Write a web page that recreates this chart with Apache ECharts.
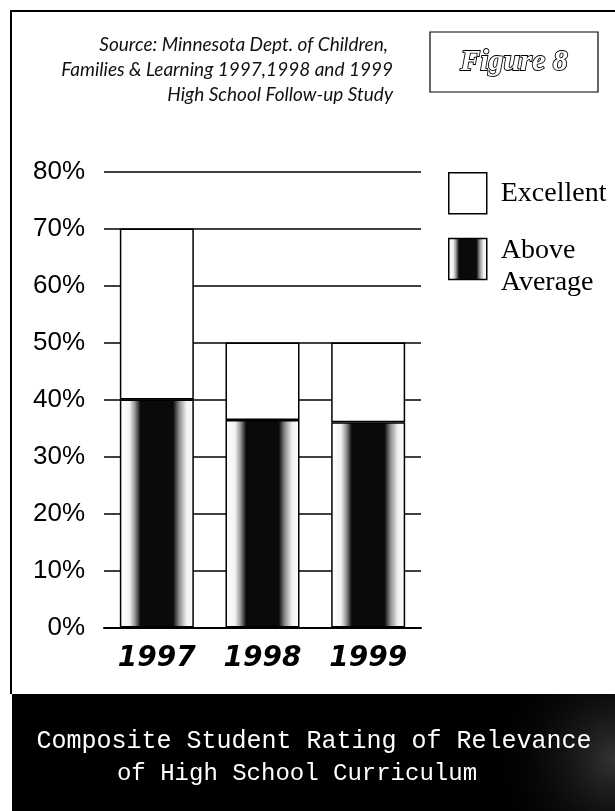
<!DOCTYPE html>
<html>
<head>
<meta charset="utf-8">
<script src="https://cdn.jsdelivr.net/npm/echarts@6/dist/echarts.min.js"></script>
<style>
  html, body { margin: 0; padding: 0; background: #fff; }
  #chart { width: 615px; height: 811px; }
</style>
</head>
<body>
<div id="chart"></div>
<script>
// Survey years and ratings (percent of students)
const years = ['1997', '1998', '1999'];
const aboveAverage = [40, 36.4, 36];
const excellent = [30, 13.6, 14];
const yMax = 80;
const yStep = 10;

const sourceLines = [
  'Source: Minnesota Dept. of Children,',
  'Families & Learning 1997,1998 and 1999',
  'High School Follow-up Study'
];
const titleLines = [
  'Composite Student Rating of Relevance',
  'of High School Curriculum'
];

// Dark fill: white edges fading to a black core, like a shaded column
const darkFill = {
  type: 'linear', x: 0, y: 0, x2: 1, y2: 0,
  colorStops: [
    { offset: 0.00, color: '#ffffff' },
    { offset: 0.13, color: '#f2f2f2' },
    { offset: 0.20, color: '#9a9a9a' },
    { offset: 0.28, color: '#0a0a0a' },
    { offset: 0.72, color: '#0a0a0a' },
    { offset: 0.80, color: '#8a8a8a' },
    { offset: 0.90, color: '#f0f0f0' },
    { offset: 1.00, color: '#ffffff' }
  ]
};

const legendText = { fontFamily: 'Liberation Serif', fontSize: 28, color: '#000', lineHeight: 32 };

const chart = echarts.init(document.getElementById('chart'), null, { renderer: 'canvas' });

// right-aligned source note, one element per line
const sourceGraphics = sourceLines.map((line, i) => ({
  type: 'text',
  x: i === 0 ? 388 : 393,
  y: 45 + i * 25,
  style: {
    text: line,
    align: 'right',
    verticalAlign: 'middle',
    font: 'italic 19px Lato, "Open Sans", sans-serif',
    fill: '#111'
  }
}));

chart.setOption({
  backgroundColor: '#ffffff',
  animation: false,
  grid: { left: 104, right: 194, top: 171.5, bottom: 183.5 },
  legend: [
    {
      data: [{ name: 'Excellent', itemStyle: { color: '#fff', borderColor: '#000', borderWidth: 1.5 } }],
      left: 443, top: 167,
      itemWidth: 38, itemHeight: 41,
      icon: 'rect',
      selectedMode: false,
      textStyle: Object.assign({ padding: [0, 0, 0, 9] }, legendText)
    },
    {
      data: [{ name: 'Above Average', itemStyle: { color: darkFill, borderColor: '#000', borderWidth: 1.5 } }],
      left: 443, top: 217,
      itemWidth: 38, itemHeight: 41,
      icon: 'rect',
      selectedMode: false,
      formatter: () => '{s| }\n{t|Above}\n{t|Average}',
      textStyle: {
        padding: [0, 0, 0, 9],
        rich: {
          s: { fontSize: 10, lineHeight: 16 },
          t: legendText
        }
      }
    }
  ],
  xAxis: {
    type: 'category',
    data: years,
    axisLine: { show: true, lineStyle: { color: '#000', width: 2 } },
    axisTick: { show: false },
    axisLabel: {
      margin: 17,
      fontFamily: 'DejaVu Sans',
      fontWeight: 'bold',
      fontStyle: 'italic',
      fontSize: 28,
      color: '#000'
    }
  },
  yAxis: {
    type: 'value',
    min: 0, max: yMax, interval: yStep,
    axisLine: { show: false },
    axisTick: { show: false },
    splitLine: { show: true, lineStyle: { color: '#000', width: 1.5 } },
    axisLabel: {
      margin: 19,
      formatter: '{value}%',
      fontFamily: "'Liberation Sans Narrow', 'Liberation Sans', sans-serif",
      fontSize: 26,
      color: '#000'
    }
  },
  series: [
    {
      name: 'Above Average',
      type: 'bar',
      stack: 'rating',
      barWidth: 74,
      data: aboveAverage,
      itemStyle: { color: darkFill, borderColor: '#000', borderWidth: 1.5 }
    },
    {
      name: 'Excellent',
      type: 'bar',
      stack: 'rating',
      barWidth: 74,
      data: excellent,
      itemStyle: { color: '#ffffff', borderColor: '#000', borderWidth: 1.5 }
    }
  ],
  graphic: [
    // page frame: top and left rules
    {
      type: 'polyline',
      shape: { points: [[11, 694], [11, 11], [615, 11]] },
      style: { stroke: '#000', lineWidth: 2, fill: null }
    },
    ...sourceGraphics,
    // figure number box
    {
      type: 'rect',
      shape: { x: 430, y: 32, width: 168, height: 60 },
      style: { fill: '#fff', stroke: '#000', lineWidth: 1.2 }
    },
    {
      type: 'text',
      x: 514, y: 62,
      style: {
        text: 'Figure 8',
        align: 'center',
        verticalAlign: 'middle',
        font: 'italic bold 30px "Liberation Serif", serif',
        fill: '#fff',
        stroke: '#000',
        lineWidth: 1.8
      }
    },
    // title band
    {
      type: 'rect',
      shape: { x: 12, y: 694, width: 603, height: 117 },
      style: { fill: '#000' }
    },
    {
      type: 'rect',
      shape: { x: 12, y: 694, width: 603, height: 117 },
      style: {
        fill: {
          type: 'radial', x: 1, y: 0.55, r: 1.1,
          colorStops: [
            { offset: 0, color: 'rgba(150,150,150,0.35)' },
            { offset: 1, color: 'rgba(0,0,0,0)' }
          ]
        }
      }
    },
    {
      type: 'text',
      x: 314, y: 741,
      style: {
        text: titleLines[0],
        align: 'center',
        verticalAlign: 'middle',
        font: '25px "Liberation Mono", monospace',
        fill: '#fff'
      }
    },
    {
      type: 'text',
      x: 297, y: 774,
      style: {
        text: titleLines[1],
        align: 'center',
        verticalAlign: 'middle',
        font: '24px "Liberation Mono", monospace',
        fill: '#fff'
      }
    }
  ]
});
</script>
</body>
</html>
